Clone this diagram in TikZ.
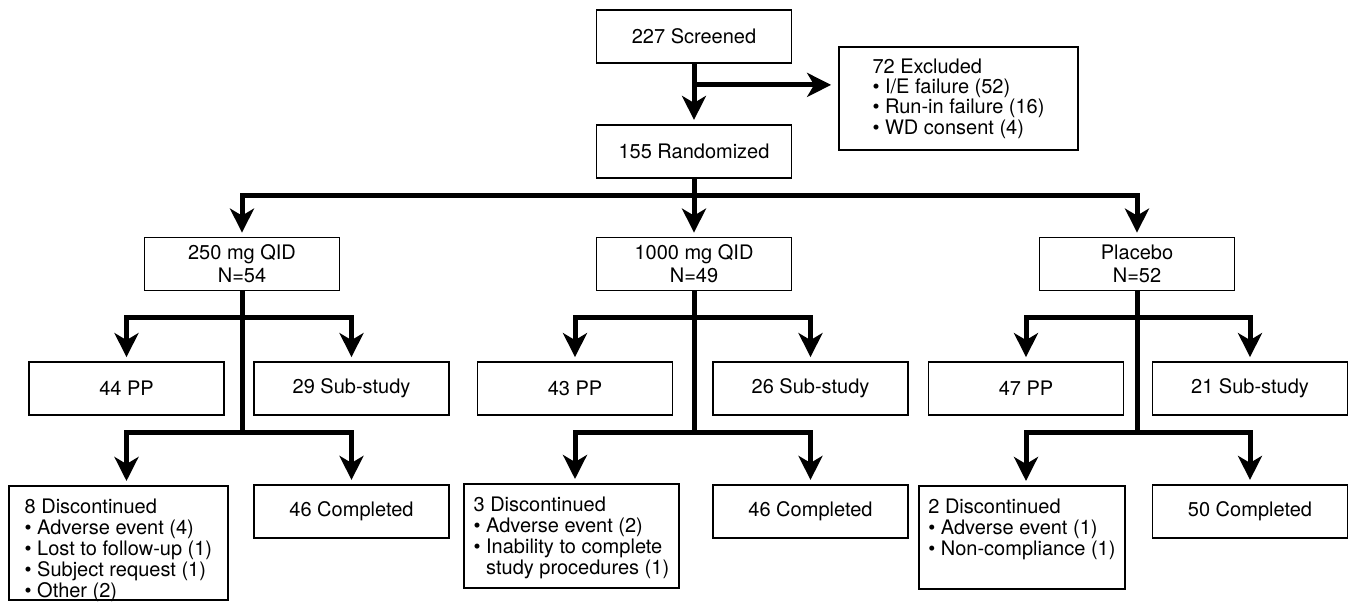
\documentclass[tikz,border=0pt]{standalone}
\usepackage{fontspec}
\setmainfont{TeX Gyre Heros}
\usetikzlibrary{arrows.meta, positioning}

\newcommand{\reasonlist}[1]{\begin{tabular}[t]{@{}l@{}}#1\end{tabular}}

\begin{document}
\begin{tikzpicture}[x=0.5pt, y=-0.5pt,
  box/.style={rectangle, draw=black, line width=0.9pt, minimum width=97.5pt, minimum height=26.5pt, inner sep=0pt, align=center, font=\fontsize{10}{11.5}\selectfont},
  listbox/.style={rectangle, draw=black, line width=0.9pt, anchor=north west, inner xsep=0pt, inner ysep=3pt, text height=11pt, font=\fontsize{10}{10.2}\selectfont},
  flow/.style={line width=2.5pt, -{Stealth[length=12pt, width=12pt, inset=3.5pt]}, shorten >=2pt}]

\useasboundingbox (0,0) rectangle (1355,601);

% Screening
\node (screened) [box] at (694,36.5) {227 Screened};

\node (random) [box, below=30pt of screened] {155 Randomized};

\node (excluded) [box, minimum width=119.5pt, minimum height=51.5pt, align=left, font=\fontsize{10}{10.2}\selectfont] at (958.5,98.5) {72 Excluded\\ \textbullet\ I/E failure (52)\\ \textbullet\ Run-in failure (16)\\ \textbullet\ WD consent (4)};

% Groups
\node (g250) [box] at (242,264) {250 mg QID\\ N=54};

\node (g1000) [box] at (694,264) {1000 mg QID\\ N=49};

\node (gplac) [box] at (1137,264) {Placebo\\ N=52};

% Populations
\node (pp250) [box] at (126.5,388.5) {44 PP};
\node (sub250) [box] at (351.5,388.5) {29 Sub-study};

\node (pp1000) [box] at (575,388.5) {43 PP};
\node (sub1000) [box] at (810.5,388.5) {26 Sub-study};

\node (ppplac) [box] at (1026,388.5) {47 PP};
\node (subplac) [box] at (1250,388.5) {21 Sub-study};

% Outcomes
\node (disc250) [listbox, minimum width=109.5pt, text depth=40pt] at (8,485) {\reasonlist{8 Discontinued\\ \textbullet\ Adverse event (4)\\ \textbullet\ Lost to follow-up (1)\\ \textbullet\ Subject request (1)\\ \textbullet\ Other (2)}};
\node (comp250) [box, below=34pt of sub250] {46 Completed};

\node (disc1000) [listbox, minimum width=107.5pt, text depth=35pt] at (463,483) {\reasonlist{3 Discontinued\\ \textbullet\ Adverse event (2)\\ \textbullet\ Inability to complete\\ \phantom{\textbullet\ }study procedures (1)}};
\node (comp1000) [box, below=34pt of sub1000] {46 Completed};

\node (discplac) [listbox, minimum width=103pt, text depth=34.5pt] at (918,485) {\reasonlist{2 Discontinued\\ \textbullet\ Adverse event (1)\\ \textbullet\ Non-compliance (1)}};
\node (compplac) [box, below=34pt of subplac] {50 Completed};

% Arrows
\draw [flow] (screened) -- (random);
\path (screened.south) ++(0,21) coordinate (tee);
\draw [flow, shorten >=3.5pt] (tee) -- (tee -| excluded.west);

\draw [flow] (random) -- (g1000);
\draw [flow] (random.south) -- ++(0,17) -| (g250.north);
\draw [flow] (random.south) -- ++(0,17) -| (gplac.north);

\draw [flow] (g250.south) -- ++(0,26) -| (pp250.north);
\draw [flow] (g250.south) -- ++(0,26) -| (sub250.north);
\draw [flow] (g250.south) -- ++(0,141) -| (pp250 |- disc250.north);
\draw [flow] (g250.south) -- ++(0,141) -| (comp250.north);

\draw [flow] (g1000.south) -- ++(0,26) -| (pp1000.north);
\draw [flow] (g1000.south) -- ++(0,26) -| (sub1000.north);
\draw [flow] (g1000.south) -- ++(0,141) -| (pp1000 |- disc1000.north);
\draw [flow] (g1000.south) -- ++(0,141) -| (comp1000.north);

\draw [flow] (gplac.south) -- ++(0,26) -| (ppplac.north);
\draw [flow] (gplac.south) -- ++(0,26) -| (subplac.north);
\draw [flow] (gplac.south) -- ++(0,141) -| (ppplac |- discplac.north);
\draw [flow] (gplac.south) -- ++(0,141) -| (compplac.north);

\end{tikzpicture}
\end{document}
